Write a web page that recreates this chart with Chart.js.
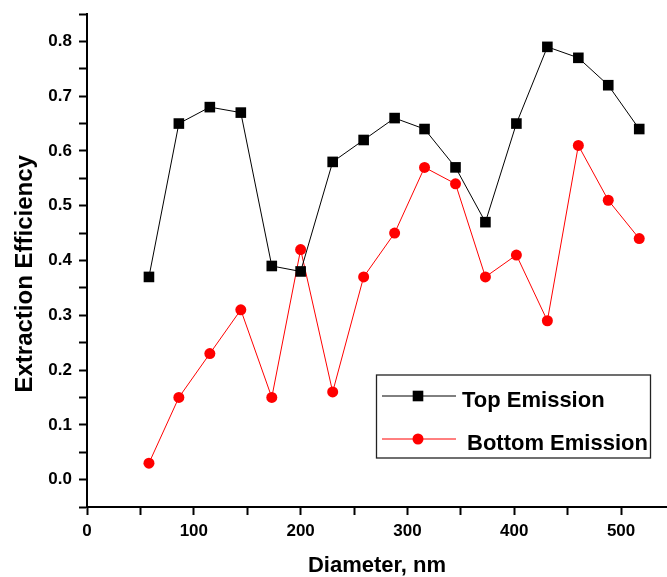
<!DOCTYPE html>
<html>
<head>
<meta charset="utf-8">
<script src="https://cdn.jsdelivr.net/npm/chart.js@4.4.1/dist/chart.umd.min.js"></script>
<style>
    html, body { margin: 0; padding: 0; background: #fff; }
    #wrap { width: 667px; height: 577px; }
</style>
</head>
<body>
<div id="wrap"><canvas id="chart" width="667" height="577"></canvas></div>
<script>
"use strict";

// data
const diameters = [58, 86, 115, 144, 173, 200, 230, 259, 288, 316, 345, 373, 402, 431, 460, 488, 517];
const topEmission = [0.37, 0.65, 0.68, 0.67, 0.39, 0.38, 0.58, 0.62, 0.66, 0.64, 0.57, 0.47, 0.65, 0.79, 0.77, 0.72, 0.64];
const bottomEmission = [0.03, 0.15, 0.23, 0.31, 0.15, 0.42, 0.16, 0.37, 0.45, 0.57, 0.54, 0.37, 0.41, 0.29, 0.61, 0.51, 0.44];
const seriesNames = ['Top Emission', 'Bottom Emission'];
const xTitle = 'Diameter, nm';
const yTitle = 'Extraction Efficiency';

const FONT = '"Liberation Sans", Arial, sans-serif';

const toPoints = (values) => values.map((v, i) => ({ x: diameters[i], y: v }));

// legend drawn as a framed box inside the plot, like the original
const boxLegend = {
    id: 'boxLegend',
    afterDraw(chart) {
        const ctx = chart.ctx;
        ctx.save();
        ctx.strokeStyle = '#222';
        ctx.lineWidth = 1.3;
        ctx.strokeRect(376.5, 375, 274, 83);

        chart.data.datasets.forEach((ds, i) => {
            const y = 396 + i * 43;
            ctx.strokeStyle = ds.borderColor;
            ctx.lineWidth = 1;
            ctx.beginPath();
            ctx.moveTo(382, y);
            ctx.lineTo(456, y);
            ctx.stroke();

            ctx.fillStyle = ds.pointBackgroundColor;
            Chart.helpers.drawPoint(ctx, {
                pointStyle: ds.pointStyle,
                radius: ds.pointRadius,
                rotation: 0,
                borderWidth: 0
            }, 418, y);

            ctx.fillStyle = '#000';
            ctx.font = 'bold 22px ' + FONT;
            ctx.textBaseline = 'middle';
            ctx.textAlign = 'left';
            ctx.fillText(ds.label, 462 + i * 5, y + 5);
        });
        ctx.restore();
    }
};

const config = {
    type: 'line',
    data: {
        datasets: [{
            label: seriesNames[0],
            data: toPoints(topEmission),
            borderColor: '#000000',
            borderWidth: 1,
            pointStyle: 'rect',
            pointRadius: 7.5,
            pointBorderWidth: 0,
            pointBackgroundColor: '#000000',
            tension: 0
        }, {
            label: seriesNames[1],
            data: toPoints(bottomEmission),
            borderColor: '#ff0000',
            borderWidth: 1,
            pointStyle: 'circle',
            pointRadius: 5.5,
            pointBorderWidth: 0,
            pointBackgroundColor: '#ff0000',
            tension: 0
        }]
    },
    options: {
        responsive: false,
        animation: false,
        devicePixelRatio: 1,
        layout: {
            autoPadding: false,
            padding: { top: 14, left: 0, right: 0, bottom: 0 }
        },
        plugins: {
            legend: { display: false },
            tooltip: { enabled: false }
        },
        scales: {
            x: {
                type: 'linear',
                min: 0,
                max: 543,
                afterFit: (scale) => {
                    scale.height = 70;
                    scale.paddingLeft = 0;
                    scale.paddingRight = 0;
                },
                border: { display: true, color: '#000', width: 2 },
                grid: {
                    drawOnChartArea: false,
                    drawTicks: true,
                    tickLength: 8,
                    tickWidth: 2,
                    tickColor: '#000'
                },
                ticks: {
                    stepSize: 50,
                    includeBounds: false,
                    maxRotation: 0,
                    autoSkip: false,
                    padding: 6,
                    color: '#000',
                    font: { family: FONT, size: 17, weight: 'bold' },
                    callback: (v) => (v % 100 === 0 ? String(v) : '')
                },
                title: {
                    display: true,
                    text: xTitle,
                    color: '#000',
                    padding: 0,
                    font: { family: FONT, size: 22, weight: 'bold', lineHeight: 1 }
                }
            },
            y: {
                min: -0.05,
                max: 0.85,
                afterFit: (scale) => {
                    scale.width = 87;
                    scale.paddingTop = 0;
                    scale.paddingBottom = 0;
                },
                border: { display: true, color: '#000', width: 2 },
                grid: {
                    drawOnChartArea: false,
                    drawTicks: true,
                    tickLength: 8,
                    tickWidth: 2,
                    tickColor: '#000'
                },
                ticks: {
                    stepSize: 0.05,
                    includeBounds: true,
                    autoSkip: false,
                    padding: 7,
                    color: '#000',
                    font: { family: FONT, size: 17, weight: 'bold' },
                    callback: (v) => {
                        const hundredths = Math.round(v * 100);
                        return (hundredths % 10 === 0 && hundredths >= 0) ? (hundredths / 100).toFixed(1) : '';
                    }
                },
                title: {
                    display: true,
                    text: yTitle + '\u00a0\u00a0\u00a0\u00a0',
                    color: '#000',
                    padding: { top: 13, bottom: 0 },
                    font: { family: FONT, size: 24, weight: 'bold', lineHeight: 1 }
                }
            }
        }
    },
    plugins: [boxLegend]
};

new Chart(document.getElementById('chart'), config);
</script>
</body>
</html>
